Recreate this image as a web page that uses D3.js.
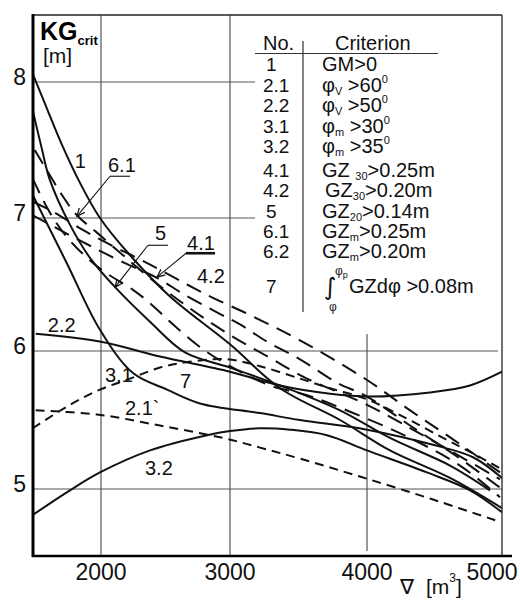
<!DOCTYPE html>
<html><head><meta charset="utf-8">
<script src="https://cdn.jsdelivr.net/npm/d3@7"></script>
<style>body{margin:0;background:#fff}svg{display:block}</style>
</head><body>
<script>
// ---------- DATA ----------
const xTicks = [2000, 3000, 4000, 5000];
const yTicks = [5, 6, 7, 8];

// [displacement m3, KG_crit m]
const curve1  = [[1473,8.06],[1589,7.79],[1698,7.54],[1837,7.26],[1992,7.00],[2225,6.72],[2535,6.41],[3000,6.05],[3365,5.73],[3803,5.50],[4170,5.28],[4615,5.08],[5000,4.86]];
const curve5  = [[1473,7.79],[1543,7.51],[1605,7.28],[1760,6.95],[1915,6.70],[2109,6.48],[2380,6.22],[2651,5.99],[3000,5.88],[3365,5.75],[3803,5.57],[4170,5.37],[4615,5.17],[4911,4.99]];
const curve7  = [[1473,7.17],[1736,6.66],[1992,6.16],[2248,5.84],[2512,5.72],[2767,5.62],[3219,5.55],[3511,5.50],[4000,5.43],[4489,5.32],[4785,5.23],[5000,5.08]];
const curve22 = [[1496,6.13],[2000,6.07],[2457,5.96],[3000,5.85],[3365,5.75],[3730,5.69],[4022,5.67],[4467,5.70],[4763,5.75],[5000,5.85]];
const curve32 = [[1473,4.81],[1760,4.99],[1992,5.12],[2380,5.28],[2822,5.39],[3000,5.42],[3219,5.44],[3438,5.43],[3708,5.39],[4000,5.28],[4444,5.12],[4763,4.99],[5000,4.83]];
const curve21 = [[1496,5.57],[1969,5.54],[2457,5.46],[2946,5.37],[3219,5.30],[3511,5.22],[3949,5.09],[4467,4.93],[4985,4.76]];
const curve31 = [[1473,5.44],[1760,5.61],[1992,5.72],[2225,5.80],[2457,5.88],[2667,5.92],[2977,5.94],[3219,5.89],[3511,5.80],[3730,5.73],[4000,5.65],[4296,5.51],[4563,5.37],[4763,5.27],[4985,5.15]];
const curve42 = [[1473,7.12],[1643,7.04],[1860,6.91],[2070,6.80],[2279,6.70],[2457,6.61],[2667,6.50],[2868,6.40],[3146,6.27],[3511,6.08],[4000,5.79],[4319,5.57],[4637,5.36],[4985,5.12]];
const curve41 = [[1473,7.02],[1721,6.89],[1938,6.78],[2186,6.66],[2434,6.55],[2636,6.43],[2899,6.29],[3073,6.20],[3270,6.07],[3511,5.94],[3781,5.77],[4000,5.67],[4319,5.46],[4689,5.22],[4985,5.01]];
const curve61 = [[1488,7.50],[1589,7.34],[1698,7.17],[1814,7.02],[1969,6.89],[2171,6.72],[2403,6.53],[2690,6.32],[3000,6.12],[3292,5.95],[3562,5.80],[4000,5.61],[4467,5.36],[4985,5.07]];
const curve62 = [[1473,7.29],[1605,7.04],[1760,6.83],[1992,6.62],[2248,6.46],[2380,6.36],[2535,6.22],[2767,6.03],[3000,5.89],[3292,5.75],[3562,5.68],[3876,5.56],[4296,5.38],[4689,5.17],[4985,4.94]];

const solidCurves = [curve1, curve5, curve7, curve22, curve32];
const longDashCurves = [curve41, curve42, curve61, curve62];
const shortDashCurves = [curve21, curve31];

// curve labels (data coordinates of text start / baseline)
const curveLabels = ["1", "6.1", "5", "4.1", "4.2", "2.2", "3.1", "7", "2.1`", "3.2"];
const labelV  = [1798, 2054, 2419, 2667, 2744, 1589, 2031, 2612, 2186, 2341];
const labelKG = [7.365, 7.336, 6.833, 6.758, 6.510, 6.143, 5.775, 5.732, 5.536, 5.104];

// leaders: underline start/end and arrow tip
const leaderFromV = [2070, 2364, 2659];
const leaderToV   = [2225, 2519, 2884];
const leaderKG    = [7.307, 6.795, 6.735];
const arrowTipV   = [1814, 2109, 2434];
const arrowTipKG  = [7.012, 6.48, 6.555];
const leaderWidth = [1.1, 1.1, 2.6];

// legend
const legendNo = ["1","2.1","2.2","3.1","3.2","4.1","4.2","5","6.1","6.2","7"];
const legendCrit = [
  [["GM>0",""]],
  [["φ",""],["V","sub"],[" >60",""],["0","sup"]],
  [["φ",""],["V","sub"],[" >50",""],["0","sup"]],
  [["φ",""],["m","sub"],[" >30",""],["0","sup"]],
  [["φ",""],["m","sub"],[" >35",""],["0","sup"]],
  [["GZ ",""],["30","sub"],[">0.25m",""]],
  [["GZ",""],["30","sub"],[">0.20m",""]],
  [["GZ",""],["20","sub"],[">0.14m",""]],
  [["GZ",""],["m","sub"],[">0.25m",""]],
  [["GZ",""],["m","sub"],[">0.20m",""]]
];

// ---------- DRAW ----------
const FONT = "'Liberation Sans', Arial, Helvetica, sans-serif";
const svg = d3.select("body").append("svg").attr("width", 520).attr("height", 600)
  .style("font-family", FONT);

const x = d3.scaleLinear().domain([1475, 2000, 3000, 4000, 5000]).range([33, 101, 230, 367, 502]);
const y = d3.scaleLinear().domain([4.51, 5, 6, 7, 8, 8.49]).range([556, 489, 351, 218, 82, 15]);

const L = 33, R = 502, T = 15, B = 556;

// grid lines
const gridCol = "#555";
const vTop = {2000: T, 3000: T, 4000: 334, 5000: T};
const vBot = {2000: B, 3000: B, 4000: 551, 5000: B};
svg.append("g").selectAll("line").data(xTicks.slice(0, 3)).join("line")
  .attr("x1", d => x(d)).attr("x2", d => x(d))
  .attr("y1", d => vTop[d]).attr("y2", d => vBot[d])
  .attr("stroke", gridCol).attr("stroke-width", 1.2);
const hEnd = {5: R, 6: 498, 7: 255, 8: 255};
svg.append("g").selectAll("line").data(yTicks).join("line")
  .attr("x1", L).attr("x2", d => hEnd[d])
  .attr("y1", d => y(d)).attr("y2", d => y(d))
  .attr("stroke", gridCol).attr("stroke-width", 1.2);

// clip
svg.append("clipPath").attr("id", "clip").append("rect")
  .attr("x", L).attr("y", T).attr("width", R - L).attr("height", B - T);

const line = d3.line().x(d => x(d[0])).y(d => y(d[1])).curve(d3.curveCatmullRom.alpha(0.5));
const cg = svg.append("g").attr("clip-path", "url(#clip)")
  .attr("fill", "none").attr("stroke", "#111").attr("stroke-width", 2);
cg.selectAll("path.s").data(solidCurves).join("path").attr("class", "s").attr("d", line);
cg.selectAll("path.l").data(longDashCurves).join("path").attr("class", "l").attr("d", line)
  .attr("stroke-dasharray", "16,9");
cg.selectAll("path.d").data(shortDashCurves).join("path").attr("class", "d").attr("d", line)
  .attr("stroke-dasharray", "9,6");

// frame
svg.append("line").attr("x1", L).attr("x2", R).attr("y1", T).attr("y2", T).attr("stroke", "#222").attr("stroke-width", 1.3);
svg.append("line").attr("x1", R).attr("x2", R).attr("y1", T).attr("y2", B).attr("stroke", "#222").attr("stroke-width", 1.3);
svg.append("line").attr("x1", L).attr("x2", L).attr("y1", T - 1).attr("y2", B + 1).attr("stroke", "#000").attr("stroke-width", 3);
svg.append("line").attr("x1", L - 1).attr("x2", 512).attr("y1", B).attr("y2", B).attr("stroke", "#000").attr("stroke-width", 2.6);

// tick labels
svg.append("g").selectAll("text").data(yTicks).join("text")
  .attr("x", 26).attr("y", d => y(d) + 3).attr("text-anchor", "end")
  .attr("font-size", 23).attr("fill", "#111").text(d => d);
svg.append("g").selectAll("text").data(xTicks).join("text")
  .attr("x", d => Math.min(x(d), 492)).attr("y", 580).attr("text-anchor", "middle")
  .attr("font-size", 23).attr("fill", "#111").text(d => d);

// axis titles
const yt = svg.append("text").attr("x", 40).attr("y", 40).attr("fill", "#000");
yt.append("tspan").attr("font-size", 25).attr("font-weight", "bold").text("KG");
yt.append("tspan").attr("font-size", 13).attr("font-weight", "bold").attr("dy", 5).text("crit");
svg.append("text").attr("x", 43).attr("y", 63).attr("font-size", 21).attr("fill", "#111").text("[m]");

const xt = svg.append("text").attr("x", 400).attr("y", 594).attr("font-size", 21).attr("fill", "#111");
xt.append("tspan").text("∇");
xt.append("tspan").attr("x", 426).text("[m");
xt.append("tspan").attr("font-size", 12).attr("dy", -12).text("3");
xt.append("tspan").attr("dy", 12).text("]");

// curve labels
svg.append("g").selectAll("text").data(curveLabels).join("text")
  .attr("x", (d, i) => x(labelV[i])).attr("y", (d, i) => y(labelKG[i]))
  .attr("font-size", 20).attr("fill", "#111").text(d => d);

// arrow marker
svg.append("defs").append("marker").attr("id", "arr")
  .attr("viewBox", "0 0 10 10").attr("refX", 9).attr("refY", 5)
  .attr("markerWidth", 9).attr("markerHeight", 9).attr("markerUnits", "userSpaceOnUse")
  .attr("orient", "auto")
  .append("path").attr("d", "M0,1 L9,5 L0,9").attr("fill", "none").attr("stroke", "#111").attr("stroke-width", 1.4);

const lg = svg.append("g").attr("stroke", "#111");
leaderFromV.forEach((v, i) => {
  lg.append("line").attr("x1", x(v)).attr("x2", x(leaderToV[i]))
    .attr("y1", y(leaderKG[i])).attr("y2", y(leaderKG[i])).attr("stroke-width", leaderWidth[i]);
  lg.append("line").attr("x1", x(v)).attr("y1", y(leaderKG[i]))
    .attr("x2", x(arrowTipV[i])).attr("y2", y(arrowTipKG[i]))
    .attr("stroke-width", 1.1).attr("marker-end", "url(#arr)");
});

// legend
const leg = svg.append("g").attr("fill", "#111");
leg.append("text").attr("x", 263).attr("y", 50).attr("font-size", 20).text("No.");
leg.append("text").attr("x", 335).attr("y", 50).attr("font-size", 20).text("Criterion");
leg.append("line").attr("x1", 255).attr("x2", 438).attr("y1", 53.5).attr("y2", 53.5).attr("stroke", "#333").attr("stroke-width", 1.2);
leg.append("line").attr("x1", 303).attr("x2", 303).attr("y1", 41).attr("y2", 312).attr("stroke", "#333").attr("stroke-width", 1.2);

const rowY = i => i < 5 ? 71 + i * 20.5 : i < 10 ? 177 + (i - 5) * 20.3 : 293;
legendNo.forEach((n, i) => {
  leg.append("text").attr("x", n.length === 1 ? 266 : 263).attr("y", rowY(i))
    .attr("font-size", 19).text(n);
});
legendCrit.forEach((parts, i) => {
  const t = leg.append("text").attr("x", i === 6 ? 325 : 322).attr("y", rowY(i)).attr("font-size", 20);
  let shift = 0;
  parts.forEach(([s, mode]) => {
    const sp = t.append("tspan").text(s);
    let target = mode === "sub" ? 3 : mode === "sup" ? -9 : 0;
    sp.attr("dy", target - shift);
    shift = target;
    if (mode) sp.attr("font-size", 11);
  });
});
// integral row (7)
const iy = rowY(10);
leg.append("text").attr("x", 324).attr("y", iy + 2).attr("font-size", 24).attr("font-family", "'DejaVu Sans', sans-serif").text("∫");
const up = leg.append("text").attr("x", 335).attr("y", iy - 18).attr("font-size", 12);
up.append("tspan").text("φ");
up.append("tspan").attr("font-size", 9).attr("dy", 3).text("p");
leg.append("text").attr("x", 349).attr("y", iy).attr("font-size", 20).text("GZdφ >0.08m");
leg.append("text").attr("x", 329).attr("y", iy + 18).attr("font-size", 12).text("φ");
</script>
</body></html>
